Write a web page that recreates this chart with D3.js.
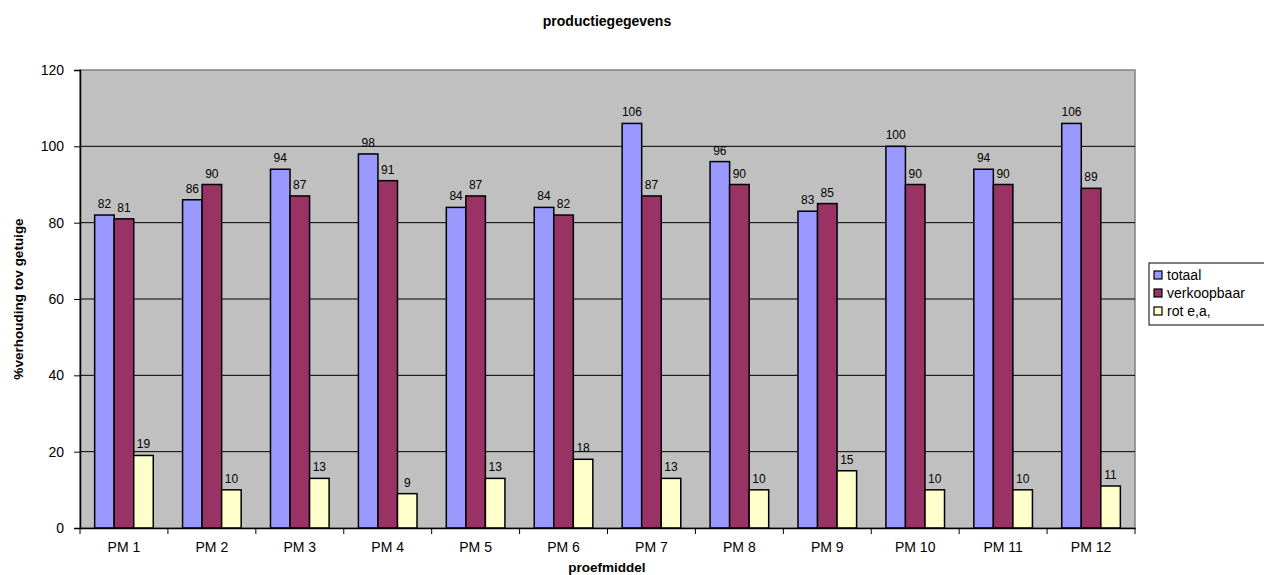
<!DOCTYPE html>
<html>
<head>
<meta charset="utf-8">
<script src="https://cdn.jsdelivr.net/npm/d3@7/dist/d3.min.js"></script>
<style>
  html, body { margin: 0; padding: 0; background: #fff; }
  svg { display: block; font-family: "Liberation Sans", Arial, sans-serif; }
</style>
</head>
<body>
<svg id="chart" width="1264" height="575"></svg>
<script>
// Production figures per test product (% relative to the control)
const categories = ["PM 1","PM 2","PM 3","PM 4","PM 5","PM 6","PM 7","PM 8","PM 9","PM 10","PM 11","PM 12"];
const seriesNames = ["totaal", "verkoopbaar", "rot e,a,"];
const totaal      = [82, 86, 94, 98, 84, 84, 106, 96, 83, 100, 94, 106];
const verkoopbaar = [81, 90, 87, 91, 87, 82, 87, 90, 85, 90, 90, 89];
const rot         = [19, 10, 13, 9, 13, 18, 13, 10, 15, 10, 10, 11];
const yTicks = [0, 20, 40, 60, 80, 100, 120];
const colors = ["#9999FF", "#993366", "#FFFFCC"];

const seriesValues = [totaal, verkoopbaar, rot];

const svg = d3.select("#chart");
const plot = { left: 80, right: 1135, top: 70, bottom: 528 };

const x = d3.scaleBand().domain(categories).range([plot.left, plot.right]).paddingInner(0).paddingOuter(0);
// Bars sit inside each band with a gap of 1.5 bar widths between groups
const x1 = d3.scaleBand().domain(seriesNames)
  .range([0, x.bandwidth()]).paddingInner(0).paddingOuter(0.75);
const y = d3.scaleLinear().domain([0, 120]).range([plot.bottom, plot.top]);

// Plot background
svg.append("rect")
  .attr("x", plot.left).attr("y", plot.top)
  .attr("width", plot.right - plot.left).attr("height", plot.bottom - plot.top)
  .attr("fill", "#C0C0C0").attr("stroke", "#808080").attr("stroke-width", 1.5);

// Gridlines
svg.append("g").selectAll("line").data(yTicks.filter(d => d > 0 && d < 120)).join("line")
  .attr("x1", plot.left).attr("x2", plot.right)
  .attr("y1", d => y(d)).attr("y2", d => y(d))
  .attr("stroke", "#000").attr("stroke-width", 1);

// Bars
const groups = svg.append("g").selectAll("g").data(categories).join("g")
  .attr("transform", d => `translate(${x(d)},0)`);

groups.each(function(cat, i) {
  const g = d3.select(this);
  seriesNames.forEach((s, k) => {
    const v = seriesValues[k][i];
    g.append("rect")
      .attr("x", x1(s)).attr("width", x1.bandwidth())
      .attr("y", y(v)).attr("height", y(0) - y(v))
      .attr("fill", colors[k]).attr("stroke", "#000").attr("stroke-width", 1.5);
    g.append("text")
      .attr("x", x1(s) + x1.bandwidth() / 2).attr("y", y(v) - 7)
      .attr("text-anchor", "middle").attr("font-size", 12).attr("fill", "#000")
      .text(v);
  });
});

// Y axis
const yAxis = d3.axisLeft(y).tickValues(yTicks).tickSize(6).tickPadding(10);
const gy = svg.append("g").attr("transform", `translate(${plot.left},0)`).call(yAxis);
gy.select(".domain").attr("stroke", "#000").attr("stroke-width", 1.5);
gy.selectAll(".tick line").attr("stroke", "#000");
gy.selectAll(".tick text").attr("font-size", 14).attr("fill", "#000")
  .attr("font-family", "Liberation Sans, Arial, sans-serif");

// X axis with ticks at the group boundaries
const xAxis = d3.axisBottom(x).tickSize(0).tickPadding(14);
const gx = svg.append("g").attr("transform", `translate(0,${plot.bottom})`).call(xAxis);
gx.select(".domain").attr("stroke", "#000").attr("stroke-width", 1.5);
gx.selectAll(".tick text").attr("font-size", 14).attr("fill", "#000")
  .attr("font-family", "Liberation Sans, Arial, sans-serif");
svg.append("g").selectAll("line").data(categories.concat([null])).join("line")
  .attr("x1", (d, i) => i < categories.length ? x(d) : plot.right)
  .attr("x2", (d, i) => i < categories.length ? x(d) : plot.right)
  .attr("y1", plot.bottom).attr("y2", plot.bottom + 6)
  .attr("stroke", "#000");

// Titles
svg.append("text").attr("x", 607).attr("y", 26).attr("text-anchor", "middle")
  .attr("font-size", 14).attr("font-weight", "bold").text("productiegegevens");
svg.append("text").attr("x", 607).attr("y", 572).attr("text-anchor", "middle")
  .attr("font-size", 13.5).attr("font-weight", "bold").text("proefmiddel");
svg.append("text")
  .attr("transform", `translate(23,${(plot.top + plot.bottom) / 2}) rotate(-90)`)
  .attr("text-anchor", "middle").attr("font-size", 13.5).attr("font-weight", "bold")
  .text("%verhouding tov getuige");

// Legend
const legend = svg.append("g").attr("transform", "translate(1149,263)");
legend.append("rect").attr("x", 0).attr("y", 0).attr("width", 130).attr("height", 62)
  .attr("fill", "#fff").attr("stroke", "#000").attr("stroke-width", 1);
seriesNames.forEach((s, k) => {
  const row = legend.append("g").attr("transform", `translate(5,${8 + k * 18})`);
  row.append("rect").attr("x", 0).attr("y", 0).attr("width", 8).attr("height", 8)
    .attr("fill", colors[k]).attr("stroke", "#000").attr("stroke-width", 1.2);
  row.append("text").attr("x", 13).attr("y", 8.5).attr("font-size", 14).text(s);
});
</script>
</body>
</html>
